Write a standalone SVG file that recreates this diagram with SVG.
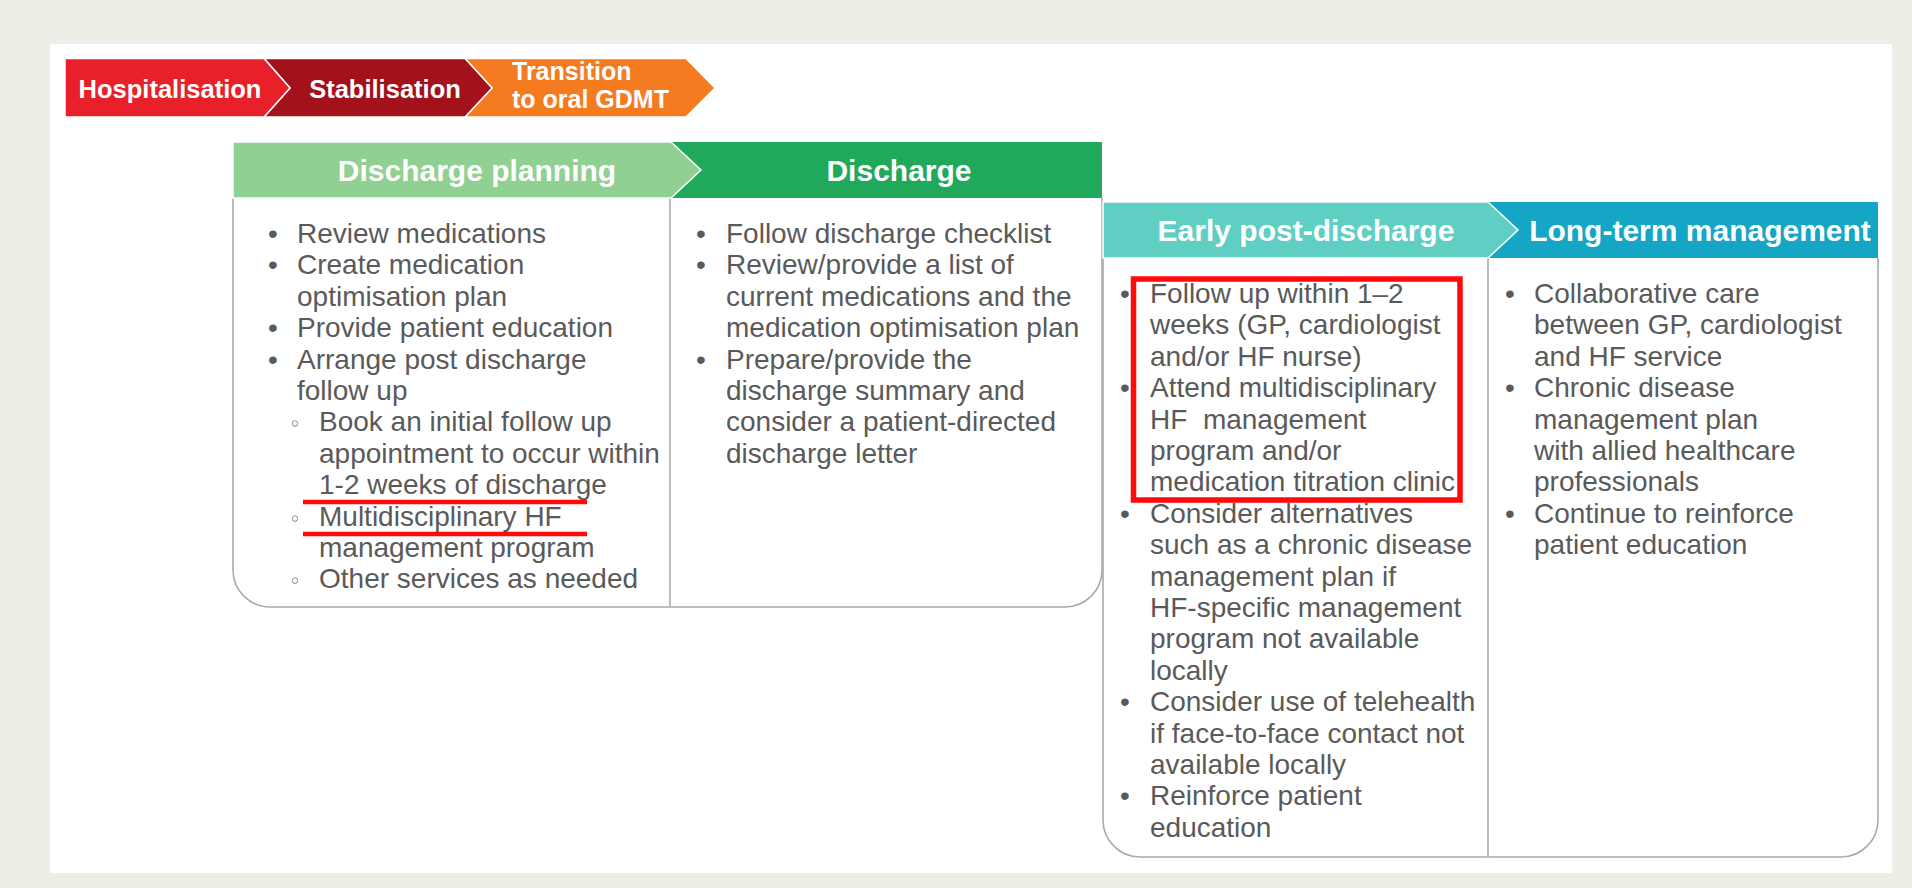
<svg xmlns="http://www.w3.org/2000/svg" width="1912" height="888" viewBox="0 0 1912 888">
  <style>
    .body { font-family: "Liberation Sans", Arial, "DejaVu Sans", sans-serif; font-size: 28px; fill: #5a5a5a; white-space: pre; }
    .sub { font-family: "DejaVu Sans", "Liberation Sans", sans-serif; font-size: 20px; fill: #5a5a5a; text-anchor: middle; }
    .hdr { font-family: "Liberation Sans", Arial, sans-serif; font-size: 30px; font-weight: bold; fill: #ffffff; text-anchor: middle; }
    .chev { font-family: "Liberation Sans", Arial, sans-serif; font-size: 25.5px; font-weight: bold; fill: #ffffff; }
    .chev2 { font-family: "Liberation Sans", Arial, sans-serif; font-size: 25px; font-weight: bold; fill: #ffffff; }
    .box { fill: #ffffff; stroke: #ababab; stroke-width: 1.6; }
    .div { stroke: #ababab; stroke-width: 1.6; }
    .mark { fill: none; stroke: #ff0a0a; }
  </style>

  <!-- page background and white card -->
  <rect x="0" y="0" width="1912" height="888" fill="#efeee6"/>
  <rect x="50" y="44" width="1842" height="829" fill="#ffffff"/>

  <!-- in-hospital phase chevrons -->
  <g id="phase-transition">
    <polygon points="465,58.5 686,58.5 715,88 686,117 465,117 492,88" fill="#f47b20" stroke="#ffffff" stroke-width="1.5"/>
    <text class="chev2" x="512" y="80">Transition</text>
    <text class="chev2" x="512" y="108">to oral GDMT</text>
  </g>
  <g id="phase-stabilisation">
    <polygon points="264,58.5 465,58.5 492,88 465,117 264,117 290,88" fill="#a3111b" stroke="#ffffff" stroke-width="1.5"/>
    <text class="chev" x="385" y="98" text-anchor="middle">Stabilisation</text>
  </g>
  <g id="phase-hospitalisation">
    <polygon points="65,58.5 264,58.5 290,88 264,117 65,117" fill="#e8202a" stroke="#ffffff" stroke-width="1.5"/>
    <text class="chev" x="170" y="98" text-anchor="middle">Hospitalisation</text>
  </g>

  <!-- lower card: early post-discharge / long-term management -->
  <g id="card-post">
    <path class="box" d="M1103,258 V820 A37,37 0 0 0 1140,857 H1841 A37,37 0 0 0 1878,820 V258"/>
    <line class="div" x1="1488" y1="258" x2="1488" y2="857"/>
  </g>

  <!-- upper card: discharge planning / discharge -->
  <g id="card-discharge">
    <path class="box" d="M233,198 V570 A37,37 0 0 0 270,607 H1065 A37,37 0 0 0 1102,570 V198"/>
    <line class="div" x1="670" y1="198" x2="670" y2="607"/>
  </g>

  <!-- column headers -->
  <g id="hdr-discharge">
    <rect x="670" y="142" width="432" height="56" fill="#21a95b"/>
    <text class="hdr" x="899" y="181">Discharge</text>
  </g>
  <g id="hdr-planning">
    <polygon points="233,142 671,142 701,170 671,198 233,198" fill="#90d193" stroke="#ffffff" stroke-width="1.5"/>
    <text class="hdr" x="477" y="181">Discharge planning</text>
  </g>
  <g id="hdr-longterm">
    <rect x="1488" y="202" width="390" height="56" fill="#15a6c5"/>
    <text class="hdr" x="1700" y="241">Long-term management</text>
  </g>
  <g id="hdr-early">
    <polygon points="1103,202 1488,202 1518,230 1488,258 1103,258" fill="#5fcec3" stroke="#ffffff" stroke-width="1.5"/>
    <text class="hdr" x="1306" y="241">Early post-discharge</text>
  </g>

  <!-- Discharge planning items -->
  <g id="list-planning" class="body">
    <text x="268" y="243">•</text><text x="297" y="243">Review medications</text>
    <text x="268" y="274.4">•</text><text x="297" y="274.4">Create medication</text>
    <text x="297" y="305.8">optimisation plan</text>
    <text x="268" y="337.2">•</text><text x="297" y="337.2">Provide patient education</text>
    <text x="268" y="368.6">•</text><text x="297" y="368.6">Arrange post discharge</text>
    <text x="297" y="400">follow up</text>
    <text class="sub" x="295" y="431.4">◦</text><text x="319" y="431.4">Book an initial follow up</text>
    <text x="319" y="462.8">appointment to occur within</text>
    <text x="319" y="494.2">1-2 weeks of discharge</text>
    <text class="sub" x="295" y="525.6">◦</text><text x="319" y="525.6">Multidisciplinary HF</text>
    <text x="319" y="557">management program</text>
    <text class="sub" x="295" y="588.4">◦</text><text x="319" y="588.4">Other services as needed</text>
  </g>

  <!-- Discharge items -->
  <g id="list-discharge" class="body">
    <text x="696" y="243">•</text><text x="726" y="243">Follow discharge checklist</text>
    <text x="696" y="274.4">•</text><text x="726" y="274.4">Review/provide a list of</text>
    <text x="726" y="305.8">current medications and the</text>
    <text x="726" y="337.2">medication optimisation plan</text>
    <text x="696" y="368.6">•</text><text x="726" y="368.6">Prepare/provide the</text>
    <text x="726" y="400">discharge summary and</text>
    <text x="726" y="431.4">consider a patient-directed</text>
    <text x="726" y="462.8">discharge letter</text>
  </g>

  <!-- Early post-discharge items -->
  <g id="list-early" class="body">
    <text x="1120" y="303">•</text><text x="1150" y="303">Follow up within 1–2</text>
    <text x="1150" y="334.4">weeks (GP, cardiologist</text>
    <text x="1150" y="365.8">and/or HF nurse)</text>
    <text x="1120" y="397.2">•</text><text x="1150" y="397.2">Attend multidisciplinary</text>
    <text x="1150" y="428.6" xml:space="preserve">HF  management</text>
    <text x="1150" y="460">program and/or</text>
    <text x="1150" y="491.4">medication titration clinic</text>
    <text x="1120" y="522.8">•</text><text x="1150" y="522.8">Consider alternatives</text>
    <text x="1150" y="554.2">such as a chronic disease</text>
    <text x="1150" y="585.6">management plan if</text>
    <text x="1150" y="617">HF-specific management</text>
    <text x="1150" y="648.4">program not available</text>
    <text x="1150" y="679.8">locally</text>
    <text x="1120" y="711.2">•</text><text x="1150" y="711.2">Consider use of telehealth</text>
    <text x="1150" y="742.6">if face-to-face contact not</text>
    <text x="1150" y="774">available locally</text>
    <text x="1120" y="805.4">•</text><text x="1150" y="805.4">Reinforce patient</text>
    <text x="1150" y="836.8">education</text>
  </g>

  <!-- Long-term management items -->
  <g id="list-longterm" class="body">
    <text x="1505" y="303">•</text><text x="1534" y="303">Collaborative care</text>
    <text x="1534" y="334.4">between GP, cardiologist</text>
    <text x="1534" y="365.8">and HF service</text>
    <text x="1505" y="397.2">•</text><text x="1534" y="397.2">Chronic disease</text>
    <text x="1534" y="428.6">management plan</text>
    <text x="1534" y="460">with allied healthcare</text>
    <text x="1534" y="491.4">professionals</text>
    <text x="1505" y="522.8">•</text><text x="1534" y="522.8">Continue to reinforce</text>
    <text x="1534" y="554.2">patient education</text>
  </g>

  <!-- red highlights -->
  <g id="highlights">
    <line class="mark" x1="303" y1="502" x2="587" y2="502" stroke-width="4.5"/>
    <line class="mark" x1="303" y1="534" x2="587" y2="534" stroke-width="4.5"/>
    <rect class="mark" x="1133.5" y="279" width="326.5" height="221" stroke-width="5.5"/>
  </g>
</svg>
